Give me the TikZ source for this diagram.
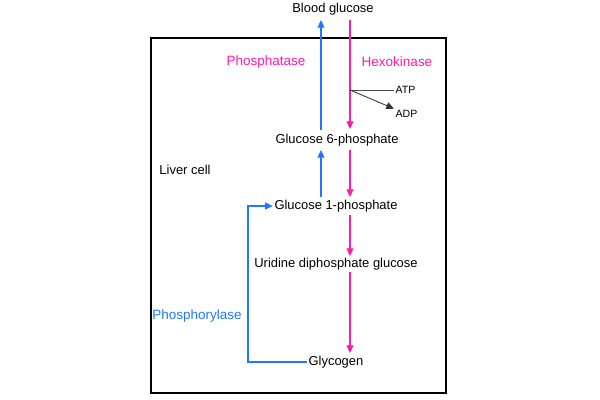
\documentclass[tikz,border=0pt]{standalone}
\usepackage{fontspec}
\setmainfont{Liberation Sans}
\usetikzlibrary{positioning,arrows.meta,calc}
\definecolor{enzpink}{HTML}{FF1AAE}
\definecolor{enzblue}{HTML}{1F78FF}

\begin{document}
\begin{tikzpicture}[x=0.025cm,y=-0.025cm,
    met/.style={font=\fontsize{9.2}{11}\selectfont, inner sep=1pt},
    enz/.style={font=\fontsize{9.6}{11}\selectfont, inner sep=1pt},
    small/.style={font=\fontsize{7.5}{8}\selectfont, inner sep=1pt},
    pinkline/.style={draw=enzpink, line width=0.8pt,
                     -{Triangle[length=5.5pt,width=5pt]}},
    blueline/.style={draw=enzblue, line width=0.8pt,
                     -{Triangle[length=5.5pt,width=5pt]}},
  ]
  \useasboundingbox (0,0) rectangle (600,400);
  % cell outline
  \draw[line width=1pt] (151,38) rectangle (446,393);
  \node[met] (cell) at (185,170) {Liver cell};

  % metabolites
  \node[met] (blood) at (333,9)   {Blood glucose};
  \node[met] (g6p)   at (337,140) {Glucose 6-phosphate};
  \node[met] (g1p)   at (336,206) {Glucose 1-phosphate};
  \node[met] (udpg)  at (336,264) {Uridine diphosphate glucose};
  \node[met] (glyc)  at (336,362) {Glycogen};

  % enzymes
  \node[enz,text=enzpink] (phos) at (266,62)  {Phosphatase};
  \node[enz,text=enzpink] (hexo) at (397,62)  {Hexokinase};
  \node[enz,text=enzblue] (pylase) at (197,316) {Phosphorylase};

  % pink pathway (x = 350)
  \coordinate (ptop) at (350,20);
  \draw[pinkline] (ptop) -- (350,129);
  \draw[pinkline] (350,150) -- (350,197);
  \draw[pinkline] (350,215) -- (350,256);
  \draw[pinkline] (350,272) -- (350,353);

  % ATP / ADP
  \coordinate (cof) at (350,90);
  \node[small,anchor=west] (atp) at (394,90)  {ATP};
  \node[small,anchor=west] (adp) at (394,114) {ADP};
  \draw[black!70,line width=0.6pt] (cof) -- (atp.west);
  \draw[black!80,line width=0.6pt,-{Triangle[length=5.5pt,width=5pt]}] (cof) -- (adp.north west);

  % blue pathway (x = 321)
  \draw[blueline] (321,130) -- (321,20);
  \draw[blueline] (321,197) -- (321,150);
  \draw[blueline] (glyc.west) -| (248,206) -- (g1p.west);
\end{tikzpicture}
\end{document}
